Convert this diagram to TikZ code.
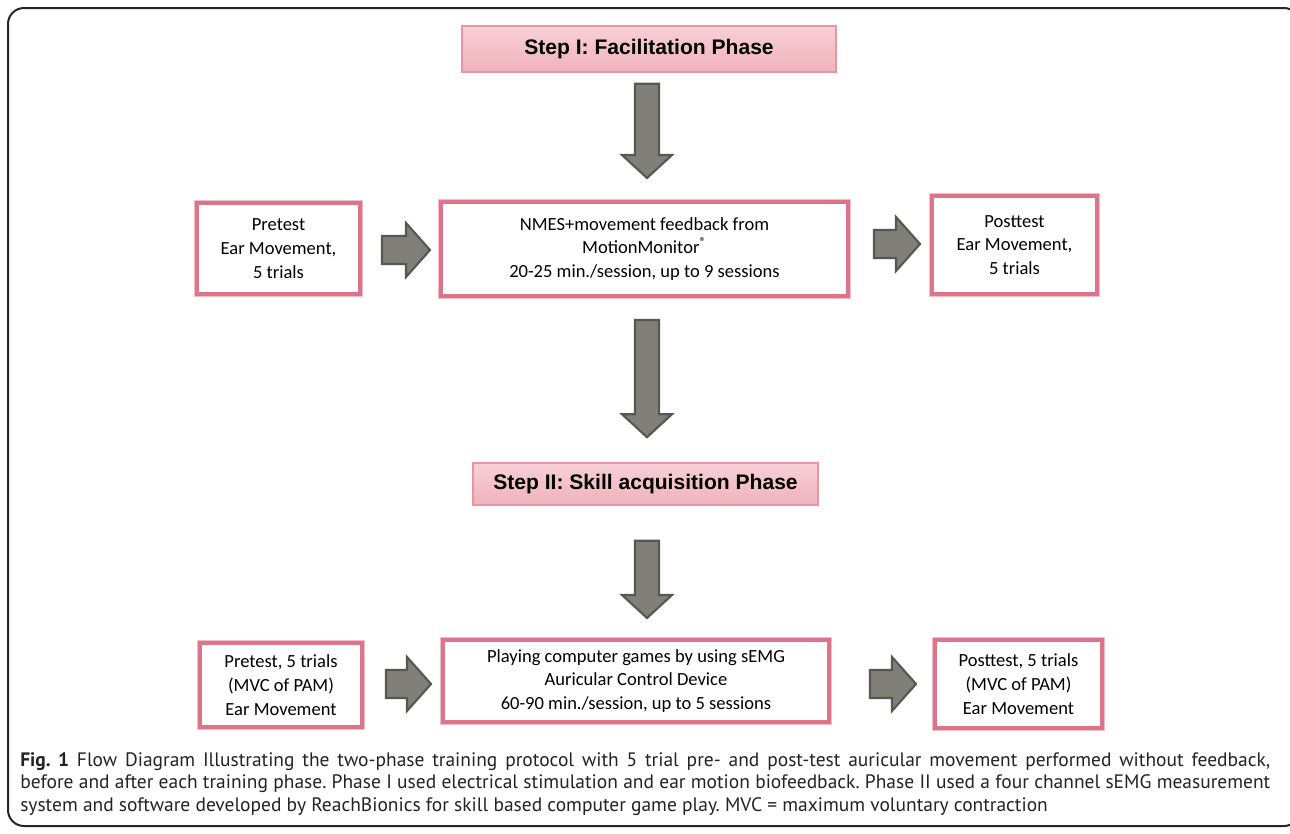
\documentclass[tikz,border=0pt]{standalone}
\usepackage{fontspec}
\setmainfont{Carlito}
\newfontfamily\headfont{Liberation Sans}
\newfontfamily\capfont{PT Sans}
\usetikzlibrary{calc}
\definecolor{boxpink}{RGB}{222,116,138}
\definecolor{glowpink}{RGB}{240,190,200}
\definecolor{headtop}{RGB}{248,208,214}
\definecolor{headbot}{RGB}{240,178,188}
\definecolor{headline}{RGB}{232,150,164}
\definecolor{arrowfill}{RGB}{128,128,120}
\definecolor{arrowline}{RGB}{88,88,82}
\definecolor{captext}{RGB}{35,35,35}
\tikzset{
  sz/.style n args={2}{minimum width=#1*0.75pt, minimum height=#2*0.75pt},
  pbox/.style={draw=boxpink, line width=3pt, fill=white, inner sep=0pt, align=center,
    font=\fontsize{13.9pt}{17.8pt}\selectfont,
    preaction={draw=glowpink, line width=5pt}},
  headbox/.style={draw=headline, line width=1.2pt, top color=headtop, bottom color=headbot,
    inner sep=0pt, align=center, font=\headfont\bfseries\fontsize{15.8pt}{18pt}\selectfont},
  blockarrow/.style={fill=arrowfill, draw=arrowline, line width=1.6pt, line join=miter},
  frame/.style={draw=black!85, line width=1.5pt, rounded corners=12pt}
}
\newcommand\downblock[2]{\draw[blockarrow] let \p1=(#1), \p2=(#2) in
  (\x1-9pt,\y1) -- (\x1+9pt,\y1) -- (\x1+9pt,\y2+17.25pt) -- (\x1+18.75pt,\y2+17.25pt)
  -- (\x1,\y2) -- (\x1-18.75pt,\y2+17.25pt) -- (\x1-9pt,\y2+17.25pt) -- cycle;}
\newcommand\rightblock[2]{\draw[blockarrow] let \p1=(#1), \p2=(#2) in
  (\x1,\y1+10.5pt) -- (\x2-18pt,\y1+10.5pt) -- (\x2-18pt,\y1+20.25pt) -- (\x2,\y1)
  -- (\x2-18pt,\y1-20.25pt) -- (\x2-18pt,\y1-10.5pt) -- (\x1,\y1-10.5pt) -- cycle;}
\begin{document}
\begin{tikzpicture}[x=0.75pt,y=-0.75pt]
\useasboundingbox (0,0) rectangle (1290,833);
\begin{scope}
\clip (0,0) rectangle (1290,833);
\draw[frame] (8,8) rectangle (1300,826);
\end{scope}

\node[headbox, sz={374}{46}] (h1) at (649,49) {Step I: Facilitation Phase};
\node[headbox, sz={345}{42}] (h2) at (645.5,484) {Step II: Skill acquisition Phase};

\node[pbox, sz={163}{91}] (pre1) at (278.5,248.5) {Pretest\\Ear Movement,\\5 trials};
\node[pbox, sz={407}{94}] (m1) at (644.5,249) {NMES+movement feedback from\\MotionMonitor\textsuperscript{®}\\20-25 min./session, up to 9 sessions};
\node[pbox, sz={165}{98}] (post1) at (1014.5,245) {Posttest\\Ear Movement,\\5 trials};

\node[pbox, sz={162}{84}] (pre2) at (281,685) {Pretest, 5 trials\\(MVC of PAM)\\Ear Movement};
\node[pbox, sz={386}{82}] (m2) at (636,681) {Playing computer games by using sEMG\\Auricular Control Device\\60-90 min./session, up to 5 sessions};
\node[pbox, sz={167}{88}] (post2) at (1018.5,684) {Posttest, 5 trials\\(MVC of PAM)\\Ear Movement};

\coordinate (d1s) at ($(h1.south)+(-2,11)$);
\coordinate (d1e) at ($(d1s |- m1.north)+(0,-22)$);
\coordinate (d2s) at ($(d1s |- m1.south)+(0,22)$);
\coordinate (d2e) at ($(d1s |- h2.north)+(0,-25)$);
\coordinate (d3s) at ($(d1s |- h2.south)+(0,35)$);
\coordinate (d3e) at ($(d1s |- m2.north)+(0,-20)$);
\coordinate (r1s) at ($(pre1.east)+(20,1.5)$);
\coordinate (r1e) at ($(r1s -| m1.west)+(-9,0)$);
\coordinate (r2s) at ($(m1.east)+(24,-5)$);
\coordinate (r2e) at ($(r2s -| post1.west)+(-10,0)$);
\coordinate (r3s) at ($(pre2.east)+(22,-1)$);
\coordinate (r3e) at ($(r3s -| m2.west)+(-10,0)$);
\coordinate (r4s) at ($(m2.east)+(39,3)$);
\coordinate (r4e) at ($(r4s -| post2.west)+(-17,0)$);

\downblock{d1s}{d1e}
\downblock{d2s}{d2e}
\downblock{d3s}{d3e}
\rightblock{r1s}{r1e}
\rightblock{r2s}{r2e}
\rightblock{r3s}{r3e}
\rightblock{r4s}{r4e}

\node[anchor=north west, inner sep=0pt, text width=937.5pt, align=justify, text=captext,
  font=\capfont\fontsize{14.6pt}{16.9pt}\selectfont\frenchspacing] (cap) at (20,752)
  {\textbf{Fig.~1} Flow Diagram Illustrating the two-phase training protocol with 5 trial pre- and post-test auricular movement performed without feedback,\linebreak
  before and after each training phase. Phase I used electrical stimulation and ear motion biofeedback. Phase II used a four channel sEMG measurement\linebreak
  system and software developed by ReachBionics for skill based computer game play. MVC = maximum voluntary contraction};
\end{tikzpicture}
\end{document}
